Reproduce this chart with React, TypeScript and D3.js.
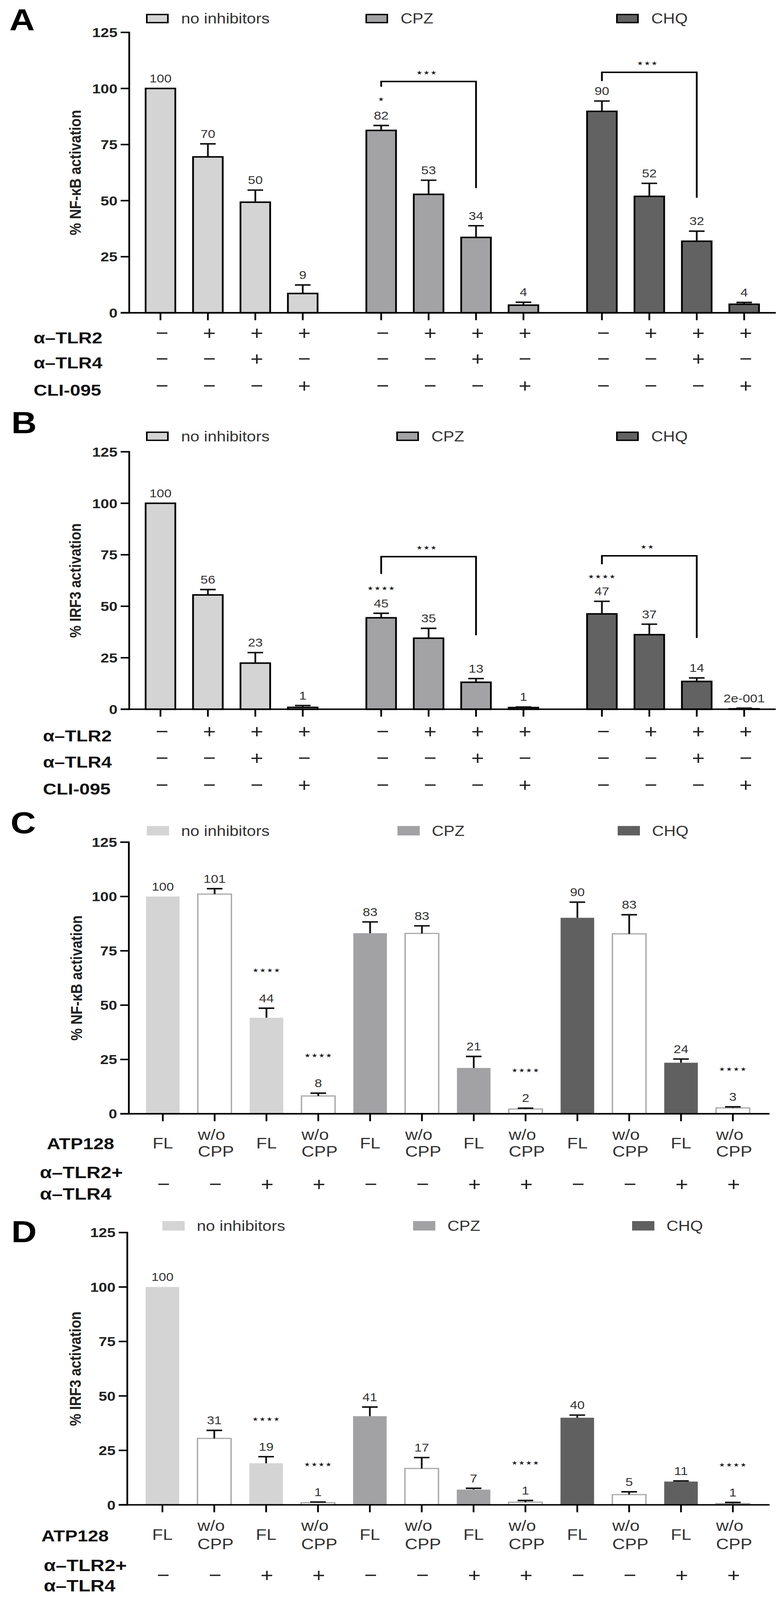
import React from 'react';
import * as d3 from 'd3';

const FONT = "'Liberation Sans', Arial, Helvetica, sans-serif";

// ---------- shared data ----------
const groupNames = ['no inhibitors', 'CPZ', 'CHQ'];
const groupColorsAB = ['#d4d4d4', '#a3a3a6', '#626262'];
const groupColorsCD = ['#d4d4d4', '#a2a2a5', '#606060'];
const yTicks = [0, 25, 50, 75, 100, 125];

// Panels A & B condition rows
const rowLabelsAB = ['α–TLR2', 'α–TLR4', 'CLI-095'];
const signsTLR2 = ['−', '+', '+', '+', '−', '+', '+', '+', '−', '+', '+', '+'];
const signsTLR4 = ['−', '−', '+', '−', '−', '−', '+', '−', '−', '−', '+', '−'];
const signsCLI = ['−', '−', '−', '+', '−', '−', '−', '+', '−', '−', '−', '+'];

// Panels C & D condition rows
const variantLabels = ['FL', 'w/o CPP', 'FL', 'w/o CPP', 'FL', 'w/o CPP', 'FL', 'w/o CPP', 'FL', 'w/o CPP', 'FL', 'w/o CPP'];
const signsTLR24 = ['−', '−', '+', '+', '−', '−', '+', '+', '−', '−', '+', '+'];

// ---------- Panel A: NF-kB ----------
const aMeans = [100, 69.5, 49.3, 8.6, 81.3, 52.8, 33.6, 3.4, 89.8, 51.9, 31.9, 3.8];
const aErrors = [0, 5.8, 5.4, 3.8, 2.2, 6.3, 5.2, 1.3, 4.6, 5.8, 4.5, 0.8];
const aLabels = ['100', '70', '50', '9', '82', '53', '34', '4', '90', '52', '32', '4'];
const aStars = ['', '', '', '', '*', '', '', '', '', '', '', ''];
const aBrackets = [
  { from: 4, to: 6, top: 103.1, leftEnd: 100.8, rightEnd: 55.6, label: '***' },
  { from: 8, to: 10, top: 107.2, leftEnd: 103.3, rightEnd: 51.3, label: '***' },
];

// ---------- Panel B: IRF3 ----------
const bMeans = [100, 55.5, 22.4, 0.9, 44.4, 34.5, 13.1, 0.8, 46.3, 36.2, 13.5, 0.2];
const bErrors = [0, 2.6, 5.1, 0.9, 2.2, 4.8, 1.8, 0.3, 6.1, 5.1, 1.7, 0.3];
const bLabels = ['100', '56', '23', '1', '45', '35', '13', '1', '47', '37', '14', '2e-001'];
const bStars = ['', '', '', '', '****', '', '', '', '****', '', '', ''];
const bBrackets = [
  { from: 4, to: 6, top: 74.1, leftEnd: 65.7, rightEnd: 35.9, label: '***' },
  { from: 8, to: 10, top: 74.5, leftEnd: 70.4, rightEnd: 34.6, label: '**' },
];

// ---------- Panel C: NF-kB, ATP128 ----------
const cMeans = [100, 101.1, 44.2, 8.2, 83.1, 83, 21.1, 2.2, 90.2, 82.8, 23.5, 2.7];
const cErrors = [0, 2.5, 4.4, 1.3, 5.2, 3.5, 5.3, 0.4, 7.2, 8.8, 1.7, 0.5];
const cLabels = ['100', '101', '44', '8', '83', '83', '21', '2', '90', '83', '24', '3'];
const cStars = ['', '', '****', '****', '', '', '', '****', '', '', '', '****'];

// ---------- Panel D: IRF3, ATP128 ----------
const dMeans = [100, 30.5, 19.1, 1.0, 40.7, 16.7, 7.0, 1.2, 40.0, 4.7, 10.7, 0.6];
const dErrors = [0, 3.7, 3.0, 0.3, 4.2, 5.0, 0.6, 0.8, 1.2, 1.3, 0.3, 0.5];
const dLabels = ['100', '31', '19', '1', '41', '17', '7', '1', '40', '5', '11', '1'];
const dStars = ['', '', '****', '****', '', '', '', '****', '', '', '', '****'];

type Bracket = { from: number; to: number; top: number; leftEnd: number; rightEnd: number; label: string };

type PanelCfg = {
  kind: 'AB' | 'CD';
  letter: string;
  letterX: number;
  letterY: number;
  yTop: number;
  yZero: number;
  axisX: number;
  xEnd: number;
  xFirst: number;
  xLast: number;
  gap: number;
  barW: number;
  title: string;
  titleX: number;
  legendY: number;
  legendX: number[];
  starGap: number;
  means: number[];
  errors: number[];
  labels: string[];
  stars: string[];
  brackets: Bracket[];
  rows: any;
};

const panels: PanelCfg[] = [
  {
    kind: 'AB', letter: 'A', letterX: 24, letterY: 90, yTop: 96, yZero: 927, axisX: 331, xEnd: 1987,
    xFirst: 411, xLast: 1906, gap: 0.654, barW: 76, title: '% NF-κB activation', titleX: 192,
    legendY: 55, legendX: [376, 938, 1580], starGap: 48,
    means: aMeans, errors: aErrors, labels: aLabels, stars: aStars, brackets: aBrackets,
    rows: { labelX: 86, signY: [987, 1063, 1143], labelY: [1000, 1075, 1155] },
  },
  {
    kind: 'AB', letter: 'B', letterX: 29, letterY: 1284, yTop: 1339, yZero: 2102, axisX: 331, xEnd: 1987,
    xFirst: 411, xLast: 1906, gap: 0.654, barW: 76, title: '% IRF3 activation', titleX: 192,
    legendY: 1293, legendX: [376, 1017, 1580], starGap: 44,
    means: bMeans, errors: bErrors, labels: bLabels, stars: bStars, brackets: bBrackets,
    rows: { labelX: 110, signY: [2168, 2247, 2326], labelY: [2180, 2258, 2337] },
  },
  {
    kind: 'CD', letter: 'C', letterX: 27, letterY: 2469, yTop: 2496, yZero: 3301, axisX: 330, xEnd: 1971,
    xFirst: 417, xLast: 1877, gap: 0, barW: 86, title: '% NF-κB activation', titleX: 195,
    legendY: 2462, legendX: [376, 1018, 1582], starGap: 82,
    means: cMeans, errors: cErrors, labels: cLabels, stars: cStars, brackets: [],
    rows: { atpX: 120, atpY: 3389, flY: 3387, woY: 3362, cppY: 3412, tlrX: 102, tlr2Y: 3474, tlr4Y: 3537, signY: 3510 },
  },
  {
    kind: 'CD', letter: 'D', letterX: 29, letterY: 3682, yTop: 3653, yZero: 4460, axisX: 326, xEnd: 1971,
    xFirst: 416, xLast: 1877, gap: 0, barW: 86, title: '% IRF3 activation', titleX: 192,
    legendY: 3633, legendX: [416, 1058, 1619], starGap: 82,
    means: dMeans, errors: dErrors, labels: dLabels, stars: dStars, brackets: [],
    rows: { atpX: 106, atpY: 4551, flY: 4547, woY: 4521, cppY: 4575, tlrX: 112, tlr2Y: 4638, tlr4Y: 4698, signY: 4669 },
  },
];

const VAL_FS = 34;
const TICK_FS = 39;
const SIGN_FS = 56;

// Full figure coordinate frame, and the height that the browser capture actually shows.
const FIG_W = 2008;
const FIG_H = 4742;
const SHOWN_H = 4096;

function Panel({ cfg }: { cfg: PanelCfg }) {
  const n = cfg.means.length;
  const slot = (i: number) => i + Math.floor(i / 4) * cfg.gap;
  const x = d3.scaleLinear().domain([0, slot(n - 1)]).range([cfg.xFirst, cfg.xLast]);
  const y = d3.scaleLinear().domain([0, 125]).range([cfg.yZero, cfg.yTop]);
  const cx = (i: number) => x(slot(i));
  const colors = cfg.kind === 'AB' ? groupColorsAB : groupColorsCD;
  const isAB = cfg.kind === 'AB';
  const titleCenter = (cfg.yTop + cfg.yZero) / 2;

  const bars = cfg.means.map((v, i) => {
    const g = Math.floor(i / 4);
    const white = !isAB && i % 2 === 1;
    const fill = white ? '#ffffff' : colors[g];
    const top = y(v);
    const capY = y(v + cfg.errors[i]);
    const labelCenter = capY - 30;
    return (
      <g key={i}>
        <rect
          x={cx(i) - cfg.barW / 2}
          y={top}
          width={cfg.barW}
          height={cfg.yZero - top}
          fill={fill}
          stroke={isAB ? '#000' : white ? '#a9a9a9' : 'none'}
          strokeWidth={isAB ? 4.5 : 3.5}
        />
        {cfg.errors[i] > 0 && (
          <g stroke="#111" strokeWidth={4.5}>
            <line x1={cx(i)} x2={cx(i)} y1={top} y2={capY} />
            <line x1={cx(i) - 20} x2={cx(i) + 20} y1={capY} y2={capY} />
          </g>
        )}
        <text x={cx(i)} y={labelCenter + 0.36 * VAL_FS} textAnchor="middle" fontSize={VAL_FS} fill="#333">
          {cfg.labels[i]}
        </text>
        {cfg.stars[i] && (
          <text
            x={cx(i) + 1}
            y={labelCenter - cfg.starGap + 6}
            textAnchor="middle"
            fontSize={17}
            letterSpacing={3}
            fill="#222"
            fontFamily="'DejaVu Sans', sans-serif"
          >
            {cfg.stars[i].replace(/\*/g, '★')}
          </text>
        )}
      </g>
    );
  });

  const brackets = cfg.brackets.map((b, k) => {
    const xl = cx(b.from);
    const xr = cx(b.to);
    const yt = y(b.top);
    return (
      <g key={'br' + k}>
        <path
          d={`M${xl},${y(b.leftEnd)}V${yt}H${xr}V${y(b.rightEnd)}`}
          fill="none"
          stroke="#000"
          strokeWidth={4.5}
        />
        <text
          x={(xl + xr) / 2 - 4}
          y={yt - 27 + 6}
          textAnchor="middle"
          fontSize={17}
          letterSpacing={3}
          fill="#222"
          fontFamily="'DejaVu Sans', sans-serif"
        >
          {b.label.replace(/\*/g, '★')}
        </text>
      </g>
    );
  });

  const legend = groupNames.map((name, g) => {
    const lx = cfg.legendX[g];
    const w = isAB ? 54 : 57;
    const h = isAB ? 24 : 28;
    return (
      <g key={'lg' + g}>
        <rect
          x={lx}
          y={cfg.legendY - h / 2}
          width={w}
          height={h}
          fill={colors[g]}
          stroke={isAB ? '#000' : 'none'}
          strokeWidth={4}
        />
        <text x={lx + 88} y={cfg.legendY + 15} fontSize={42} fill="#333">
          {name}
        </text>
      </g>
    );
  });

  const axis = (
    <g>
      <line x1={cfg.axisX} x2={cfg.axisX} y1={cfg.yTop - 2} y2={cfg.yZero + 2} stroke="#000" strokeWidth={4.5} />
      <line x1={cfg.axisX - 22} x2={cfg.xEnd} y1={cfg.yZero} y2={cfg.yZero} stroke="#000" strokeWidth={4.5} />
      {yTicks.map((t) => (
        <g key={'yt' + t}>
          <line x1={cfg.axisX - 22} x2={cfg.axisX} y1={y(t)} y2={y(t)} stroke="#000" strokeWidth={4.5} />
          <text
            x={cfg.axisX - 30}
            y={y(t) + 0.36 * TICK_FS}
            textAnchor="end"
            fontSize={TICK_FS}
            fontWeight="bold"
            fill="#222"
          >
            {t}
          </text>
        </g>
      ))}
      {cfg.means.map((_, i) => (
        <line key={'xt' + i} x1={cx(i)} x2={cx(i)} y1={cfg.yZero} y2={cfg.yZero + 22} stroke="#000" strokeWidth={4.5} />
      ))}
      <text
        transform={`translate(${cfg.titleX + 0.36 * 41},${titleCenter}) rotate(-90)`}
        textAnchor="middle"
        fontSize={41}
        fontWeight="bold"
        fill="#222"
      >
        {cfg.title}
      </text>
    </g>
  );

  let rows: any = null;
  if (isAB) {
    const r = cfg.rows;
    const signRows = [signsTLR2, signsTLR4, signsCLI];
    rows = (
      <g>
        {rowLabelsAB.map((lab, k) => (
          <text key={'rl' + k} x={r.labelX} y={r.labelY[k] + 0.36 * 48} fontSize={48} fontWeight="bold" fill="#111">
            {lab}
          </text>
        ))}
        {signRows.map((row, k) =>
          row.map((s, i) => (
            <text
              key={'s' + k + '-' + i}
              x={cx(i) + 4}
              y={r.signY[k] + 0.34 * SIGN_FS}
              textAnchor="middle"
              fontSize={SIGN_FS}
              fill="#222"
            >
              {s}
            </text>
          ))
        )}
      </g>
    );
  } else {
    const r = cfg.rows;
    rows = (
      <g>
        <text x={r.atpX} y={r.atpY + 0.36 * 48} fontSize={48} fontWeight="bold" fill="#111">
          ATP128
        </text>
        <text x={r.tlrX} y={r.tlr2Y + 0.36 * 50} fontSize={50} fontWeight="bold" fill="#111">
          α–TLR2+
        </text>
        <text x={r.tlrX} y={r.tlr4Y + 0.36 * 50} fontSize={50} fontWeight="bold" fill="#111">
          α–TLR4
        </text>
        {variantLabels.map((v, i) =>
          v === 'FL' ? (
            <text key={'v' + i} x={cx(i)} y={r.flY + 0.36 * 45} textAnchor="middle" fontSize={45} fill="#333">
              FL
            </text>
          ) : (
            <g key={'v' + i}>
              <text x={cx(i) - 43} y={r.woY + 0.36 * 45} fontSize={45} fill="#333">
                {v.split(' ')[0]}
              </text>
              <text x={cx(i) - 43} y={r.cppY + 0.36 * 45} fontSize={45} fill="#333">
                {v.split(' ')[1]}
              </text>
            </g>
          )
        )}
        {signsTLR24.map((s, i) => (
          <text
            key={'s' + i}
            x={cx(i) + 2}
            y={r.signY + 0.34 * SIGN_FS}
            textAnchor="middle"
            fontSize={SIGN_FS}
            fill="#222"
          >
            {s}
          </text>
        ))}
      </g>
    );
  }

  return (
    <g>
      <text x={cfg.letterX} y={cfg.letterY} fontSize={90} fontWeight="bold" fill="#000">
        {cfg.letter}
      </text>
      {legend}
      {bars}
      {axis}
      {brackets}
      {rows}
    </g>
  );
}

export default function App() {
  return (
    <div style={{ margin: '-8px 0 0 -8px', width: FIG_W, height: SHOWN_H, overflow: 'hidden', background: '#fff' }}>
      <svg
        width={FIG_W}
        height={SHOWN_H}
        viewBox={`0 0 ${FIG_W} ${FIG_H}`}
        preserveAspectRatio="none"
        style={{ display: 'block' }}
        fontFamily={FONT}
      >
        <rect x={0} y={0} width={FIG_W} height={FIG_H} fill="#fff" />
        {panels.map((p) => (
          <Panel key={p.letter} cfg={p} />
        ))}
      </svg>
    </div>
  );
}
